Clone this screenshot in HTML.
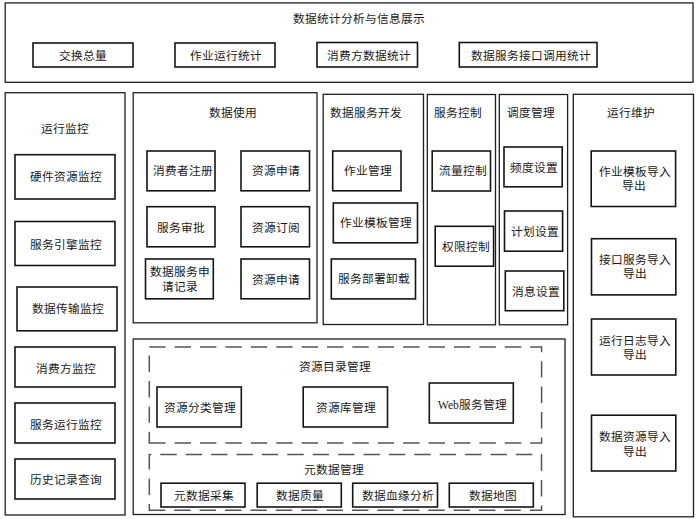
<!DOCTYPE html>
<html lang="zh-CN"><head><meta charset="utf-8"><title>数据统计分析与信息展示</title>
<style>html,body{margin:0;padding:0;background:#fff;width:698px;height:519px;overflow:hidden}
svg{position:absolute;left:0;top:0;display:block}
text{font-family:"Liberation Serif",serif;font-size:11.7px;fill:#1a1a1a}</style></head>
<body><svg width="698" height="519" viewBox="0 0 698 519">
<rect x="0" y="0" width="698" height="519" fill="#fff"/>
<rect x="5.2" y="2.9" width="687.80" height="79.40" fill="none" stroke="#1f1f1f" stroke-width="1.3"/>
<rect x="5.2" y="92.7" width="119.80" height="422.30" fill="none" stroke="#1f1f1f" stroke-width="1.3"/>
<rect x="133.2" y="92.7" width="183.80" height="230.10" fill="none" stroke="#1f1f1f" stroke-width="1.3"/>
<rect x="323.2" y="94.3" width="100.30" height="230.20" fill="none" stroke="#1f1f1f" stroke-width="1.3"/>
<rect x="427.3" y="94.5" width="68.20" height="230.30" fill="none" stroke="#1f1f1f" stroke-width="1.3"/>
<rect x="499.3" y="94.5" width="68.30" height="230.30" fill="none" stroke="#1f1f1f" stroke-width="1.3"/>
<rect x="573.3" y="94.3" width="120.20" height="422.50" fill="none" stroke="#1f1f1f" stroke-width="1.3"/>
<rect x="133.2" y="339" width="431.80" height="175.50" fill="none" stroke="#1f1f1f" stroke-width="1.3"/>
<rect x="33" y="43" width="100.00" height="24.00" fill="none" stroke="#151515" stroke-width="1.6"/>
<rect x="175" y="43" width="100.00" height="24.00" fill="none" stroke="#151515" stroke-width="1.6"/>
<rect x="317" y="42.5" width="100.50" height="24.50" fill="none" stroke="#151515" stroke-width="1.6"/>
<rect x="459.3" y="42.5" width="137.70" height="24.50" fill="none" stroke="#151515" stroke-width="1.6"/>
<rect x="15" y="154.7" width="100.00" height="44.30" fill="none" stroke="#151515" stroke-width="1.6"/>
<rect x="15" y="221.5" width="100.00" height="44.00" fill="none" stroke="#151515" stroke-width="1.6"/>
<rect x="17" y="287" width="100.00" height="43.80" fill="none" stroke="#151515" stroke-width="1.6"/>
<rect x="15" y="347" width="100.00" height="40.00" fill="none" stroke="#151515" stroke-width="1.6"/>
<rect x="15" y="403" width="100.00" height="40.00" fill="none" stroke="#151515" stroke-width="1.6"/>
<rect x="15" y="459" width="100.00" height="40.00" fill="none" stroke="#151515" stroke-width="1.6"/>
<rect x="147" y="151" width="68.00" height="39.80" fill="none" stroke="#151515" stroke-width="1.6"/>
<rect x="241" y="151" width="68.50" height="39.80" fill="none" stroke="#151515" stroke-width="1.6"/>
<rect x="147" y="206.7" width="68.00" height="40.10" fill="none" stroke="#151515" stroke-width="1.6"/>
<rect x="241" y="206.7" width="68.50" height="40.10" fill="none" stroke="#151515" stroke-width="1.6"/>
<rect x="145.5" y="259" width="67.80" height="39.80" fill="none" stroke="#151515" stroke-width="1.6"/>
<rect x="241" y="259" width="68.50" height="39.80" fill="none" stroke="#151515" stroke-width="1.6"/>
<rect x="332.7" y="151" width="68.30" height="39.80" fill="none" stroke="#151515" stroke-width="1.6"/>
<rect x="333.3" y="203" width="84.20" height="39.80" fill="none" stroke="#151515" stroke-width="1.6"/>
<rect x="331.3" y="259" width="84.20" height="39.90" fill="none" stroke="#151515" stroke-width="1.6"/>
<rect x="432.2" y="151" width="58.30" height="40.00" fill="none" stroke="#151515" stroke-width="1.6"/>
<rect x="435.2" y="226.3" width="58.40" height="39.90" fill="none" stroke="#151515" stroke-width="1.6"/>
<rect x="504" y="147" width="58.20" height="39.80" fill="none" stroke="#151515" stroke-width="1.6"/>
<rect x="504.5" y="211" width="58.10" height="40.20" fill="none" stroke="#151515" stroke-width="1.6"/>
<rect x="505.3" y="271" width="58.50" height="39.70" fill="none" stroke="#151515" stroke-width="1.6"/>
<rect x="591.2" y="151" width="84.40" height="55.50" fill="none" stroke="#151515" stroke-width="1.6"/>
<rect x="591.5" y="238.7" width="84.30" height="56.20" fill="none" stroke="#151515" stroke-width="1.6"/>
<rect x="591.5" y="319" width="84.30" height="56.00" fill="none" stroke="#151515" stroke-width="1.6"/>
<rect x="591.5" y="415.2" width="84.30" height="55.80" fill="none" stroke="#151515" stroke-width="1.6"/>
<rect x="157" y="387" width="84.30" height="40.00" fill="none" stroke="#151515" stroke-width="1.6"/>
<rect x="303.2" y="387" width="84.30" height="40.00" fill="none" stroke="#151515" stroke-width="1.6"/>
<rect x="429.3" y="383" width="84.00" height="40.00" fill="none" stroke="#151515" stroke-width="1.6"/>
<rect x="161" y="483.2" width="84.00" height="23.80" fill="none" stroke="#151515" stroke-width="1.6"/>
<rect x="257.2" y="483.2" width="84.10" height="23.80" fill="none" stroke="#151515" stroke-width="1.6"/>
<rect x="352.7" y="483.2" width="84.80" height="23.80" fill="none" stroke="#151515" stroke-width="1.6"/>
<rect x="449.3" y="483.2" width="84.00" height="23.80" fill="none" stroke="#151515" stroke-width="1.6"/>
<path d="M149.20 347.1H165.60 M174.60 347.1H191.00 M200.00 347.1H216.40 M225.40 347.1H241.80 M250.80 347.1H267.20 M276.20 347.1H292.60 M301.60 347.1H318.00 M327.00 347.1H343.40 M352.40 347.1H368.80 M377.80 347.1H394.20 M403.20 347.1H419.60 M428.60 347.1H445.00 M454.00 347.1H470.40 M479.40 347.1H495.80 M504.80 347.1H521.20 M530.20 347.1H542.30 M149.20 443.1H165.60 M174.60 443.1H191.00 M200.00 443.1H216.40 M225.40 443.1H241.80 M250.80 443.1H267.20 M276.20 443.1H292.60 M301.60 443.1H318.00 M327.00 443.1H343.40 M352.40 443.1H368.80 M377.80 443.1H394.20 M403.20 443.1H419.60 M428.60 443.1H445.00 M454.00 443.1H470.40 M479.40 443.1H495.80 M504.80 443.1H521.20 M530.20 443.1H542.30 M149.3 355.60V372.00 M149.3 381.00V397.40 M149.3 406.40V422.80 M149.3 431.80V443.80 M541.6 346.40V352.20 M541.6 361.20V377.60 M541.6 386.60V403.00 M541.6 412.00V428.40 M541.6 437.40V443.80 M148.60 454.6H151.30 M160.30 454.6H176.70 M185.70 454.6H202.10 M211.10 454.6H227.50 M236.50 454.6H252.90 M261.90 454.6H278.30 M287.30 454.6H303.70 M312.70 454.6H329.10 M338.10 454.6H354.50 M363.50 454.6H379.90 M388.90 454.6H405.30 M414.30 454.6H430.70 M439.70 454.6H456.10 M465.10 454.6H481.50 M490.50 454.6H506.90 M515.90 454.6H532.30 M541.30 454.6H542.20 M148.80 510.2H165.20 M174.20 510.2H190.60 M199.60 510.2H216.00 M225.00 510.2H241.40 M250.40 510.2H266.80 M275.80 510.2H292.20 M301.20 510.2H317.60 M326.60 510.2H343.00 M352.00 510.2H368.40 M377.40 510.2H393.80 M402.80 510.2H419.20 M428.20 510.2H444.60 M453.60 510.2H470.00 M479.00 510.2H495.40 M504.40 510.2H520.80 M529.80 510.2H542.20 M149.3 453.90V469.60 M149.3 478.60V495.00 M149.3 504.00V510.90 M541.5 454.60V471.00 M541.5 480.00V496.40 M541.5 505.40V510.90" fill="none" stroke="#555" stroke-width="1.5"/>
<text x="293.00" y="23.30">数据统计分析与信息展示</text>
<text x="59.00" y="59.70">交换总量</text>
<text x="190.30" y="59.70">作业运行统计</text>
<text x="327.00" y="59.70">消费方数据统计</text>
<text x="471.00" y="59.70">数据服务接口调用统计</text>
<text x="41.00" y="132.70">运行监控</text>
<text x="209.00" y="116.70">数据使用</text>
<text x="329.80" y="116.70">数据服务开发</text>
<text x="434.00" y="116.70">服务控制</text>
<text x="506.50" y="116.70">调度管理</text>
<text x="607.00" y="116.70">运行维护</text>
<text x="30.00" y="180.70">硬件资源监控</text>
<text x="30.00" y="248.50">服务引擎监控</text>
<text x="32.00" y="312.70">数据传输监控</text>
<text x="35.80" y="373.00">消费方监控</text>
<text x="30.00" y="428.50">服务运行监控</text>
<text x="30.00" y="484.20">历史记录查询</text>
<text x="153.00" y="175.20">消费者注册</text>
<text x="252.30" y="175.20">资源申请</text>
<text x="157.00" y="231.70">服务审批</text>
<text x="252.00" y="231.70">资源订阅</text>
<text x="150.00" y="275.70">数据服务申</text>
<text x="161.50" y="290.70">请记录</text>
<text x="252.00" y="283.50">资源申请</text>
<text x="344.00" y="175.20">作业管理</text>
<text x="340.30" y="227.10">作业模板管理</text>
<text x="338.00" y="283.40">服务部署卸载</text>
<text x="438.50" y="175.20">流量控制</text>
<text x="441.50" y="251.10">权限控制</text>
<text x="510.00" y="171.70">频度设置</text>
<text x="510.50" y="235.80">计划设置</text>
<text x="512.00" y="295.90">消息设置</text>
<text x="599.00" y="175.50">作业模板导入</text>
<text x="622.00" y="190.20">导出</text>
<text x="599.40" y="263.60">接口服务导入</text>
<text x="622.50" y="278.40">导出</text>
<text x="599.40" y="344.70">运行日志导入</text>
<text x="622.50" y="358.70">导出</text>
<text x="599.40" y="440.70">数据资源导入</text>
<text x="622.50" y="455.60">导出</text>
<text x="298.50" y="370.50">资源目录管理</text>
<text x="164.00" y="412.20">资源分类管理</text>
<text x="316.00" y="412.20">资源库管理</text>
<text x="437.80" y="409.20">Web服务管理</text>
<text x="304.00" y="473.50">元数据管理</text>
<text x="174.00" y="499.70">元数据采集</text>
<text x="276.00" y="499.70">数据质量</text>
<text x="362.00" y="499.70">数据血缘分析</text>
<text x="468.50" y="499.70">数据地图</text>
</svg></body></html>
